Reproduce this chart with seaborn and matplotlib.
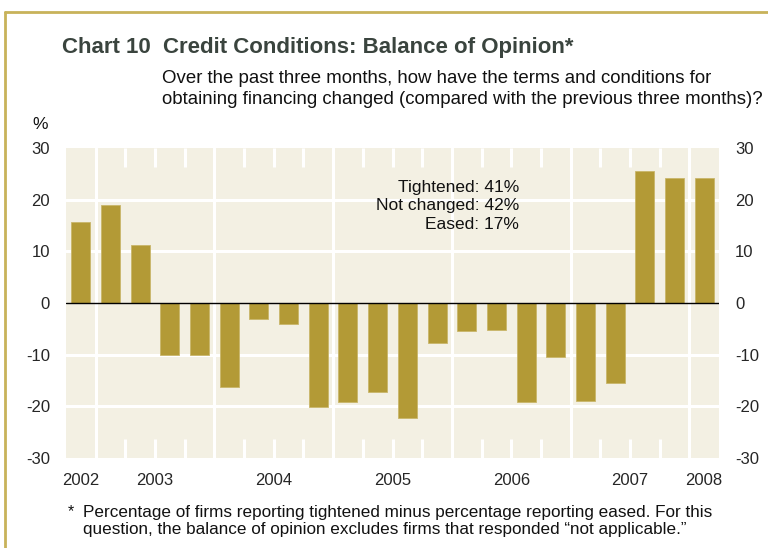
import matplotlib
matplotlib.use("Agg")
import matplotlib.pyplot as plt
import numpy as np
import seaborn as sns
from matplotlib.lines import Line2D

# quarterly survey results, 2002Q4 - 2008Q1
quarters = ["2002Q4",
            "2003Q1", "2003Q2", "2003Q3", "2003Q4",
            "2004Q1", "2004Q2", "2004Q3", "2004Q4",
            "2005Q1", "2005Q2", "2005Q3", "2005Q4",
            "2006Q1", "2006Q2", "2006Q3", "2006Q4",
            "2007Q1", "2007Q2", "2007Q3", "2007Q4",
            "2008Q1"]
balance = [15.6, 19.0, 11.2, -10.1, -10.1, -16.2, -3.1, -4.1, -20.2, -19.2, -17.2,
           -22.2, -7.7, -5.4, -5.3, -19.2, -10.5, -18.9, -15.4, 25.6, 24.2, 24.2]
year_labels = ["2002", "2003", "2004", "2005", "2006", "2007", "2008"]
y_ticks = [30, 20, 10, 0, -10, -20, -30]

BAR = "#b39a36"
BG = "#f3f0e3"
GOLD = "#c8b25a"
TITLE = "#3a443e"
FONT = ["Liberation Sans", "DejaVu Sans"]


def main():
    sns.set_style("white")
    plt.rcParams["font.family"] = FONT

    fig = plt.figure(figsize=(7.68, 5.48), dpi=100)
    ax = fig.add_axes([66 / 768, 90 / 548, 653 / 768, 310 / 548])
    ax.set_facecolor(BG)

    sns.barplot(x=quarters, y=balance, color=BAR, width=0.64, saturation=1,
                edgecolor="#c9b66a", linewidth=0.6, ax=ax, zorder=3)

    n = len(quarters)
    ax.set_xlim(-0.5, n - 0.5)
    ax.set_ylim(-30, 30)

    # year boundaries: full white lines; quarter boundaries: short ticks
    year_start = [q.endswith("Q1") for q in quarters]
    for i in range(1, n):
        if year_start[i]:
            ax.axvline(i - 0.5, color="white", lw=2.2, zorder=1)
        else:
            ax.vlines(i - 0.5, 26.3, 30, color="white", lw=2.2, zorder=1)
            ax.vlines(i - 0.5, -30, -26.3, color="white", lw=2.2, zorder=1)
    for v in y_ticks[1:-1]:
        if v != 0:
            ax.axhline(v, color="white", lw=2.2, zorder=1)
    ax.axhline(0, color="black", lw=1, zorder=4)

    # year labels centred on each year's span
    years = [q[:4] for q in quarters]
    pos = []
    for y in year_labels:
        idx = [i for i, yy in enumerate(years) if yy == y]
        pos.append((idx[0] + idx[-1]) / 2)
    ax.set_xticks(pos)
    ax.set_xticklabels(year_labels, fontsize=12)
    ax.set_yticks(y_ticks)
    ax.set_yticklabels([str(v) for v in y_ticks], fontsize=12)
    ax.tick_params(axis="both", length=0)
    ax.tick_params(axis="y", labelleft=True, labelright=True, pad=11.5)
    ax.tick_params(axis="x", pad=11)
    for t in ax.yaxis.get_major_ticks():
        t.label2.set_fontsize(12)
    for s in ax.spines.values():
        s.set_visible(False)
    ax.set_xlabel("")
    ax.set_ylabel("")

    ax.text(0.694, 0.813, "Tightened: 41%\nNot changed: 42%\nEased: 17%",
            transform=ax.transAxes, ha="right", va="center", fontsize=12.5,
            linespacing=1.28, color="#111111")

    # titles
    fig.text(62 / 768, 1 - 48 / 548, "Chart 10  Credit Conditions: Balance of Opinion*",
             fontsize=16, fontweight="bold", color=TITLE, va="center")
    fig.text(162 / 768, 1 - 89 / 548,
             "Over the past three months, how have the terms and conditions for\n"
             "obtaining financing changed (compared with the previous three months)?",
             fontsize=13.4, va="center", linespacing=1.33, color="#111111")
    fig.text(32 / 768, 1 - 124 / 548, "%", fontsize=12.5, va="center", color="#111111")

    # footnote
    fig.text(68 / 768, 1 - 512 / 548, "*", fontsize=11.5, va="center", color="#111111")
    fig.text(83 / 768, 1 - 521 / 548,
             "Percentage of firms reporting tightened minus percentage reporting eased. For this\n"
             "question, the balance of opinion excludes firms that responded \u201cnot applicable.\u201d",
             fontsize=12.3, va="center", linespacing=1.17, color="#111111")

    # gold frame on top and left
    fig.add_artist(Line2D([5 / 768, 1], [1 - 12 / 548, 1 - 12 / 548], color=GOLD, lw=2,
                          transform=fig.transFigure))
    fig.add_artist(Line2D([5 / 768, 5 / 768], [0, 1 - 12 / 548], color=GOLD, lw=2,
                          transform=fig.transFigure))

    fig.savefig("out.png", dpi=100, facecolor="white")


if __name__ == "__main__":
    main()
